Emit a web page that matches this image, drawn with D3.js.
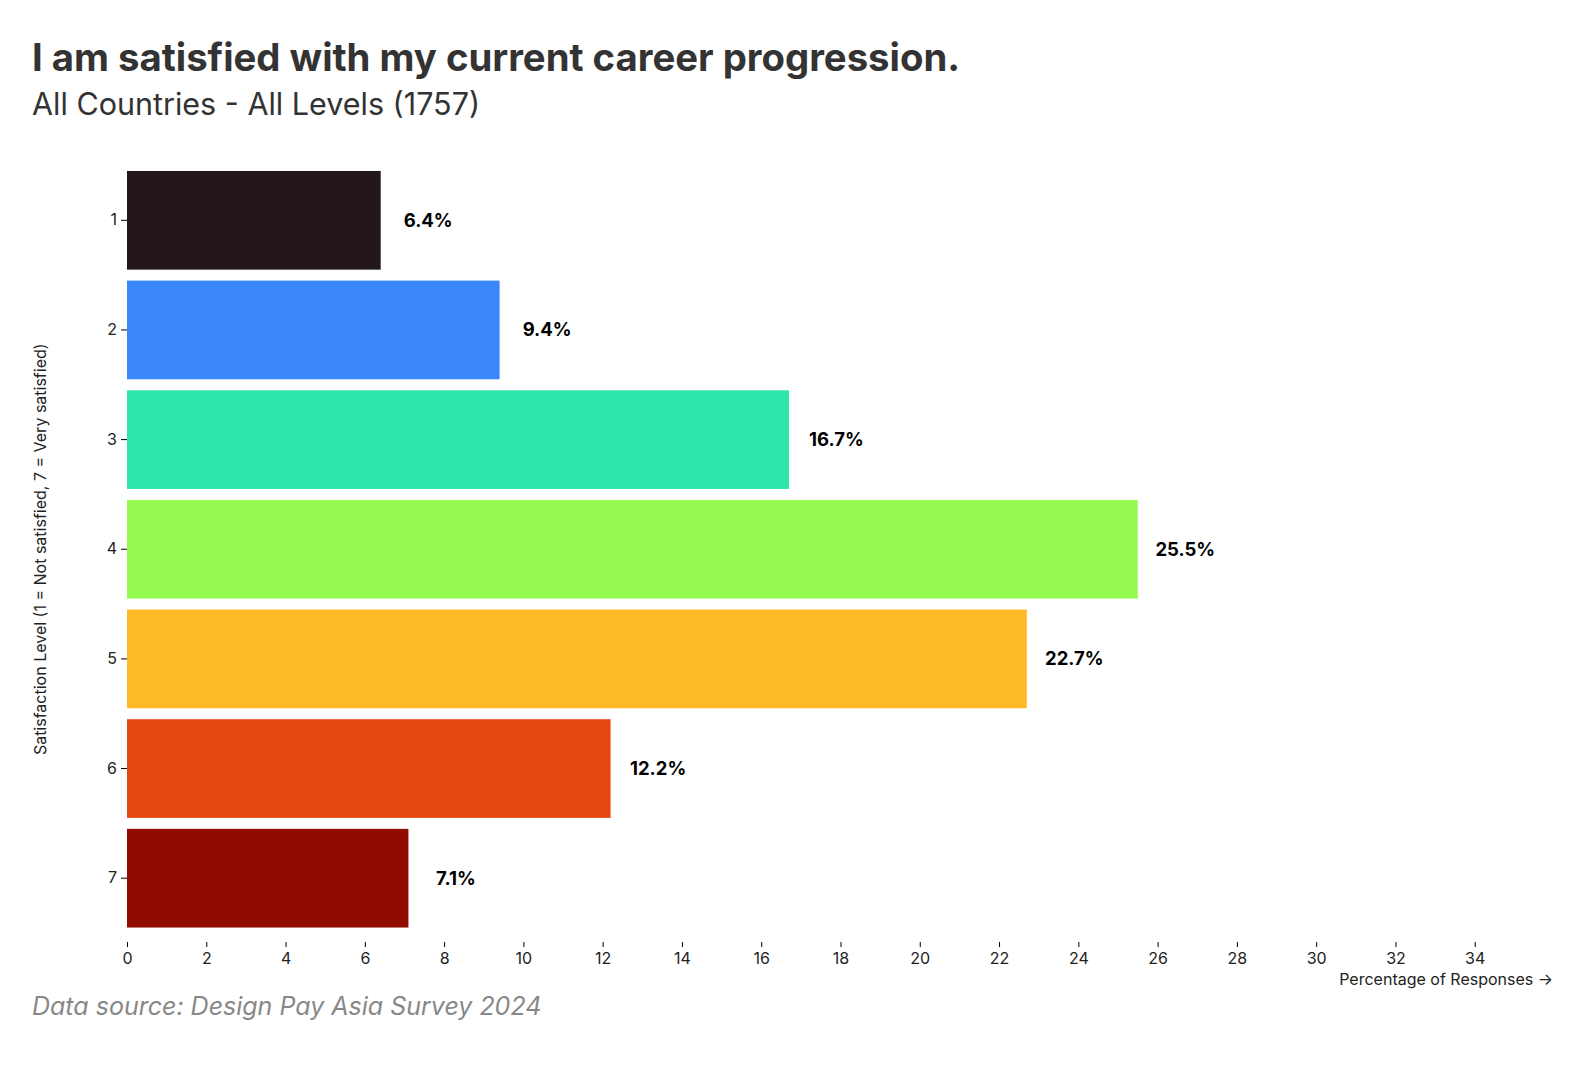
<!DOCTYPE html>
<html>
<head>
<meta charset="utf-8">
<script src="https://cdn.jsdelivr.net/npm/d3@7"></script>
<style>
  body { margin: 0; background: #fff; }
  text { font-family: Inter, "Noto Sans", sans-serif; }
</style>
</head>
<body>
<div id="wrapper"></div>
<script>
// satisfaction levels and share of responses (%)
const levels = ["1", "2", "3", "4", "5", "6", "7"]
const percents = [6.4, 9.4, 16.7, 25.5, 22.7, 12.2, 7.1]
const xTicks = [0, 2, 4, 6, 8, 10, 12, 14, 16, 18, 20, 22, 24, 26, 28, 30, 32, 34]
const xMax = 36

const titleText = "I am satisfied with my current career progression."
const subtitleText = "All Countries - All Levels (1757)"
const sourceText = "Data source: Design Pay Asia Survey 2024"
const xLabel = "Percentage of Responses →"
const yLabel = "Satisfaction Level (1 = Not satisfied, 7 = Very satisfied)"

function drawBars() {
    const dataset = levels.map((l, i) => ({ level: l, value: percents[i] }))
    const xAccessor = d => d.value
    const yAccessor = d => d.level

    let dimensions = {
        width: 1590,
        height: 1084,
        margin: {
            top: 160,
            right: 1590 - 1554,
            bottom: 1084 - 938.5,
            left: 127,
        },
    }
    dimensions.boundedWidth = dimensions.width
        - dimensions.margin.left
        - dimensions.margin.right
    dimensions.boundedHeight = dimensions.height
        - dimensions.margin.top
        - dimensions.margin.bottom

    const wrapper = d3.select("#wrapper")
        .append("svg")
            .attr("width", dimensions.width)
            .attr("height", dimensions.height)

    wrapper.append("rect")
        .attr("width", dimensions.width)
        .attr("height", dimensions.height)
        .attr("fill", "#fff")

    // titles
    wrapper.append("text")
        .attr("x", 32)
        .attr("y", 70.5)
        .attr("font-size", 38.3)
        .attr("font-weight", 700)
        .attr("fill", "#333")
        .text(titleText)

    wrapper.append("text")
        .attr("x", 32)
        .attr("y", 115)
        .attr("font-size", 30.5)
        .attr("fill", "#333")
        .text(subtitleText)

    wrapper.append("text")
        .attr("x", 32)
        .attr("y", 1015)
        .attr("font-size", 25)
        .attr("font-style", "italic")
        .attr("fill", "#888")
        .text(sourceText)

    const bounds = wrapper.append("g")
        .attr("transform", `translate(${dimensions.margin.left}, ${dimensions.margin.top})`)

    const xScale = d3.scaleLinear()
        .domain([0, xMax])
        .range([0, dimensions.boundedWidth])

    const yScale = d3.scaleBand()
        .domain(levels)
        .range([0, dimensions.boundedHeight])
        .padding(0.1)

    const colorScale = d3.scaleOrdinal()
        .domain(levels)
        .range(d3.quantize(d3.interpolateTurbo, levels.length))

    bounds.selectAll("rect.bar")
        .data(dataset)
        .enter()
        .append("rect")
            .attr("class", "bar")
            .attr("x", xScale(0))
            .attr("y", d => yScale(yAccessor(d)))
            .attr("width", d => xScale(xAccessor(d)) - xScale(0))
            .attr("height", yScale.bandwidth())
            .attr("fill", d => colorScale(yAccessor(d)))

    // value labels, centred a bit to the right of each bar end
    bounds.selectAll("text.value")
        .data(dataset)
        .enter()
        .append("text")
            .attr("class", "value")
            .attr("x", d => xScale(xAccessor(d)) + 47.5)
            .attr("y", d => yScale(yAccessor(d)) + yScale.bandwidth() / 2)
            .attr("dy", "0.35em")
            .attr("text-anchor", "middle")
            .attr("font-family", "'Liberation Sans', Arial, sans-serif")
            .attr("font-size", 18.5)
            .attr("font-weight", 700)
            .attr("fill", "#000")
            .text(d => xAccessor(d).toFixed(1) + "%")

    // axes
    const xAxis = bounds.append("g")
        .attr("transform", `translate(0, ${dimensions.boundedHeight + 3.5})`)
        .call(d3.axisBottom(xScale)
            .tickValues(xTicks)
            .tickSize(5)
            .tickPadding(6)
            .tickSizeOuter(0))
    xAxis.select(".domain").remove()
    xAxis.selectAll("text")
        .attr("font-size", 16)
        .attr("font-family", "Inter, sans-serif")
        .attr("fill", "#222")

    const yAxis = bounds.append("g")
        .call(d3.axisLeft(yScale)
            .tickSize(6)
            .tickPadding(4)
            .tickSizeOuter(0))
    yAxis.select(".domain").remove()
    yAxis.selectAll("text")
        .attr("font-size", 16)
        .attr("font-family", "Inter, sans-serif")
        .attr("fill", "#222")

    wrapper.append("text")
        .attr("x", 1553)
        .attr("y", 985)
        .attr("text-anchor", "end")
        .attr("font-size", 16)
        .attr("fill", "#222")
        .text(xLabel)

    wrapper.append("text")
        .attr("transform", `translate(46, ${dimensions.margin.top + dimensions.boundedHeight / 2}) rotate(-90)`)
        .attr("text-anchor", "middle")
        .attr("font-size", 16)
        .attr("fill", "#222")
        .text(yLabel)
}

drawBars()
</script>
</body>
</html>
